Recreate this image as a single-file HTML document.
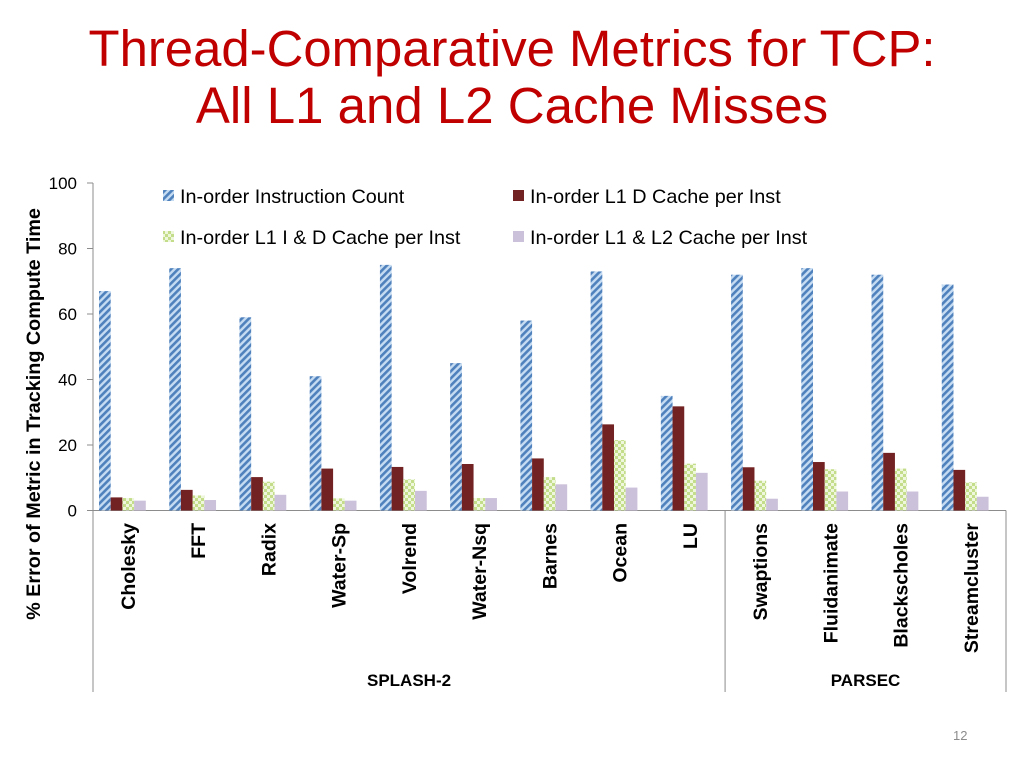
<!DOCTYPE html>
<html><head><meta charset="utf-8">
<style>
body{margin:0;background:#fff;width:1024px;height:768px;overflow:hidden;font-family:"Liberation Sans",sans-serif;}
</style></head>
<body>
<svg id="chart" width="1024" height="768" xmlns="http://www.w3.org/2000/svg">
<defs>
<pattern id="hatch" patternUnits="userSpaceOnUse" width="5" height="5" patternTransform="rotate(45)">
<rect width="5" height="5" fill="#c6dcf2"/><rect width="2.6" height="5" fill="#4f81bd"/>
</pattern>
<pattern id="check" patternUnits="userSpaceOnUse" width="6" height="6">
<rect width="6" height="6" fill="#c3dd8a"/><rect width="3" height="3" fill="#eef6dc"/><rect x="3" y="3" width="3" height="3" fill="#eef6dc"/>
</pattern>
</defs>
<text x="512" y="66" text-anchor="middle" font-size="51" fill="#c00000" textLength="847" lengthAdjust="spacingAndGlyphs">Thread-Comparative Metrics for TCP:</text>
<text x="512" y="123" text-anchor="middle" font-size="51" fill="#c00000">All L1 and L2 Cache Misses</text>
<text x="953" y="740" font-size="13" fill="#8c8c8c">12</text>
<text transform="translate(40,414) rotate(-90)" text-anchor="middle" font-size="19.8" font-weight="bold">% Error of Metric in Tracking Compute Time</text>
<g id="plot"></g>
</svg>
<script>
const categories=["Cholesky","FFT","Radix","Water-Sp","Volrend","Water-Nsq","Barnes","Ocean","LU","Swaptions","Fluidanimate","Blackscholes","Streamcluster"];
const instCount=[67,74,59,41,75,45,58,73,35,72,74,72,69];
const l1d=[4,6.3,10.2,12.8,13.3,14.2,15.9,26.3,31.8,13.2,14.8,17.6,12.4];
const l1id=[3.8,4.6,8.8,3.7,9.5,3.8,10.2,21.5,14.3,9.1,12.6,12.8,8.6];
const l1l2=[3,3.2,4.8,3,6,3.8,8,7,11.5,3.6,5.8,5.8,4.2];
const yTicks=[0,20,40,60,80,100];
const groups=["SPLASH-2","PARSEC"];
const groupSizes=[9,4];
const seriesNames=["In-order Instruction Count","In-order L1 D Cache per Inst","In-order L1 I & D Cache per Inst","In-order L1 & L2 Cache per Inst"];

const NS="http://www.w3.org/2000/svg";
const g=document.getElementById('plot');
const X0=93,X1=1006,Y0=510.5,Y100=183;
const cw=(X1-X0)/categories.length, bw=11.7;
const y=v=>Y0-(v/100)*(Y0-Y100);
const xc=i=>X0+i*cw;
function el(t,a){const e=document.createElementNS(NS,t);for(const k in a)e.setAttribute(k,a[k]);g.appendChild(e);return e;}
const fills=["url(#hatch)","#722222","url(#check)","#ccc1da"];
const series=[instCount,l1d,l1id,l1l2];
let ax=el('line',{x1:X0,y1:Y100,x2:X0,y2:692,stroke:'#8c8c8c','stroke-width':1});


let xa=el('line',{x1:X0,y1:Y0,x2:X1,y2:Y0,stroke:'#8c8c8c','stroke-width':1});


yTicks.forEach(t=>{
 const tk=el('line',{x1:X0-6,y1:y(t),x2:X0,y2:y(t),stroke:'#8c8c8c'});
 
 
 const tl=el('text',{x:77,y:y(t)+6,'text-anchor':'end','font-size':17});
 tl.textContent=t;
 
 
});
series.forEach((s,si)=>{
 s.forEach((v,i)=>{
  const r=el('rect',{x:xc(i)+6+si*bw,y:y(v),width:bw,height:Y0-y(v),fill:fills[si]});
  
  
 });
});
categories.forEach((c,i)=>{
 const cx=xc(i)+35;
 const t=el('text',{transform:`translate(${cx+7},523) rotate(-90)`,'text-anchor':'end','font-size':19.5,'font-weight':'bold'});
 t.textContent=c;
 
 
});
let start=0;
groups.forEach((gn,gi)=>{
 const end=start+groupSizes[gi];
 const xe=xc(end);
 const sep=el('line',{x1:xe,y1:Y0,x2:xe,y2:692,stroke:'#8c8c8c'});
 
 
 const gl=el('text',{x:(xc(start)+xe)/2,y:686,'text-anchor':'middle','font-size':17,'font-weight':'bold'});
 gl.textContent=gn;
 
 
 start=end;
});
const legPos=[[163,196],[513,196],[163,237],[513,237]];
seriesNames.forEach((n,i)=>{
 const [lx,ly]=legPos[i];
 const sw=el('rect',{x:lx,y:ly-6,width:11,height:11,fill:fills[i]});
 
 
 const lt=el('text',{x:lx+17,y:ly+7,'font-size':19.8});
 lt.textContent=n;
 
 
});
</script>
</body></html>
